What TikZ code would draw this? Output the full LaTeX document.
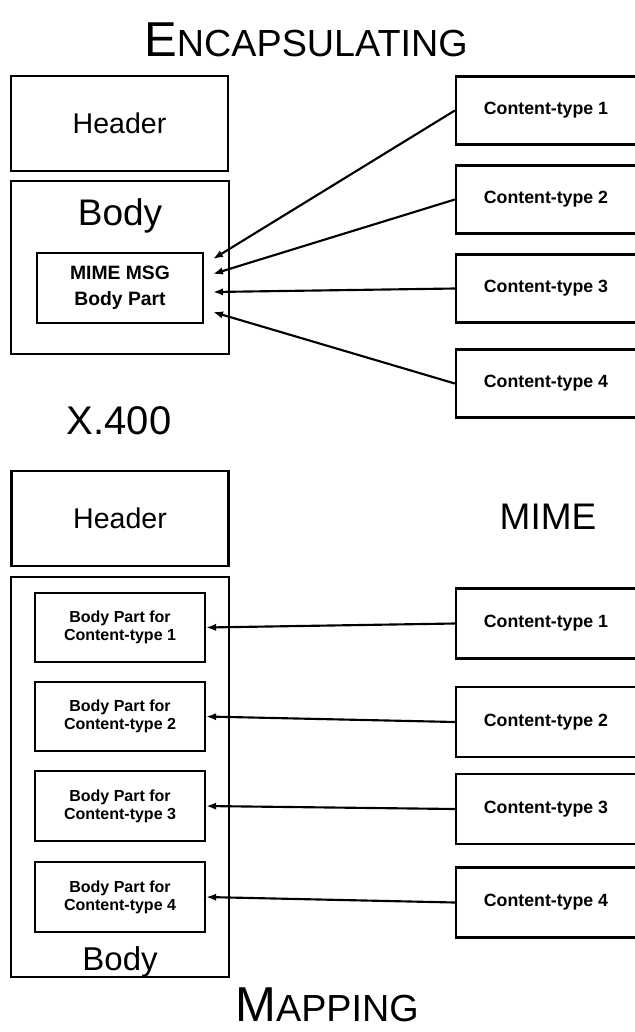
\documentclass[tikz,border=0pt]{standalone}
\usepackage{fontspec}
\setmainfont{Liberation Sans}
\usetikzlibrary{arrows.meta}
\begin{document}
\begin{tikzpicture}[x=0.75pt,y=-0.75pt,
  box/.style={draw, line width=1.7pt, rectangle, inner sep=0pt},
  hdrbox/.style={box, minimum width=162.75pt, minimum height=71.25pt,
    font=\fontsize{21.4pt}{24pt}\selectfont},
  bodybox/.style={box, minimum width=163.5pt},
  ctbox/.style={box, minimum width=135pt, minimum height=51pt,
    font=\bfseries\fontsize{13.3pt}{15pt}\selectfont},
  mimebox/.style={box, minimum width=124.5pt, minimum height=52.5pt, align=center,
    font=\bfseries\fontsize{14.5pt}{19.5pt}\selectfont},
  partbox/.style={box, minimum width=127.5pt, minimum height=52pt, align=center,
    font=\bfseries\fontsize{12pt}{13.5pt}\selectfont},
  conn/.style={line width=1.6pt, -{Latex[length=7.5pt,width=5.5pt]}},
]
\useasboundingbox (0,0) rectangle (635,1032);
\clip (0,0) rectangle (635,1032);

% ---------- Encapsulating ----------
\node[anchor=base] (title) at (306,56)
  {\fontsize{36.75pt}{40pt}\selectfont E\fontsize{28.3pt}{30pt}\selectfont NCAPSULATING};

\node[hdrbox] (hdrA) at (119.5,123.5) {Header};
\node[bodybox, minimum height=129.75pt] (bodyA) at (120,267.5) {};
\node[font=\fontsize{27.75pt}{30pt}\selectfont] (bodyAlbl) at (120,216) {Body};
\node[mimebox] (mime) at (120,288) {MIME MSG\\Body Part};

\node[ctbox] (ctA1) at (546,110.5) {Content-type 1};
\node[ctbox] (ctA2) at (546,199.5) {Content-type 2};
\node[ctbox] (ctA3) at (546,288.5) {Content-type 3};
\node[ctbox] (ctA4) at (546,383.5) {Content-type 4};

\coordinate (tipA1) at (213,259);
\coordinate (tipA2) at (213,274);
\coordinate (tipA3) at (213,292);
\coordinate (tipA4) at (213,312);

\draw[conn] (ctA1.west) -- (tipA1);
\draw[conn] (ctA2.west) -- (tipA2);
\draw[conn] (ctA3.west) -- (tipA3);
\draw[conn] (ctA4.west) -- (tipA4);

\node[font=\fontsize{30pt}{32pt}\selectfont] (x400) at (119,421) {X.400};

% ---------- Mapping ----------
\node[hdrbox] (hdrB) at (120,518.5) {Header};
\node[font=\fontsize{27.75pt}{30pt}\selectfont] (mimelbl) at (548,517) {MIME};

\node[bodybox, minimum height=300pt] (bodyB) at (120,777) {};
\node[partbox] (bp1) at (120,627.5) {Body Part for\\Content-type 1};
\node[partbox] (bp2) at (120,716.5) {Body Part for\\Content-type 2};
\node[partbox] (bp3) at (120,806) {Body Part for\\Content-type 3};
\node[partbox] (bp4) at (120,897) {Body Part for\\Content-type 4};
\node[anchor=base, font=\fontsize{24.75pt}{27pt}\selectfont] (bodyBlbl) at (120,970) {Body};

\node[ctbox, minimum height=52.5pt] (ctB1) at (546,623.5) {Content-type 1};
\node[ctbox, minimum height=52.5pt] (ctB2) at (546,722) {Content-type 2};
\node[ctbox, minimum height=52.5pt] (ctB3) at (546,809) {Content-type 3};
\node[ctbox, minimum height=52.5pt] (ctB4) at (546,902.5) {Content-type 4};

\draw[conn] (ctB1.west) -- (bp1.east);
\draw[conn] (ctB2.west) -- (bp2.east);
\draw[conn] (ctB3.west) -- (bp3.east);
\draw[conn] (ctB4.west) -- (bp4.east);

\node[anchor=base] (subtitle) at (327,1021)
  {\fontsize{36.75pt}{40pt}\selectfont M\fontsize{28.3pt}{30pt}\selectfont APPING};
\end{tikzpicture}
\end{document}
